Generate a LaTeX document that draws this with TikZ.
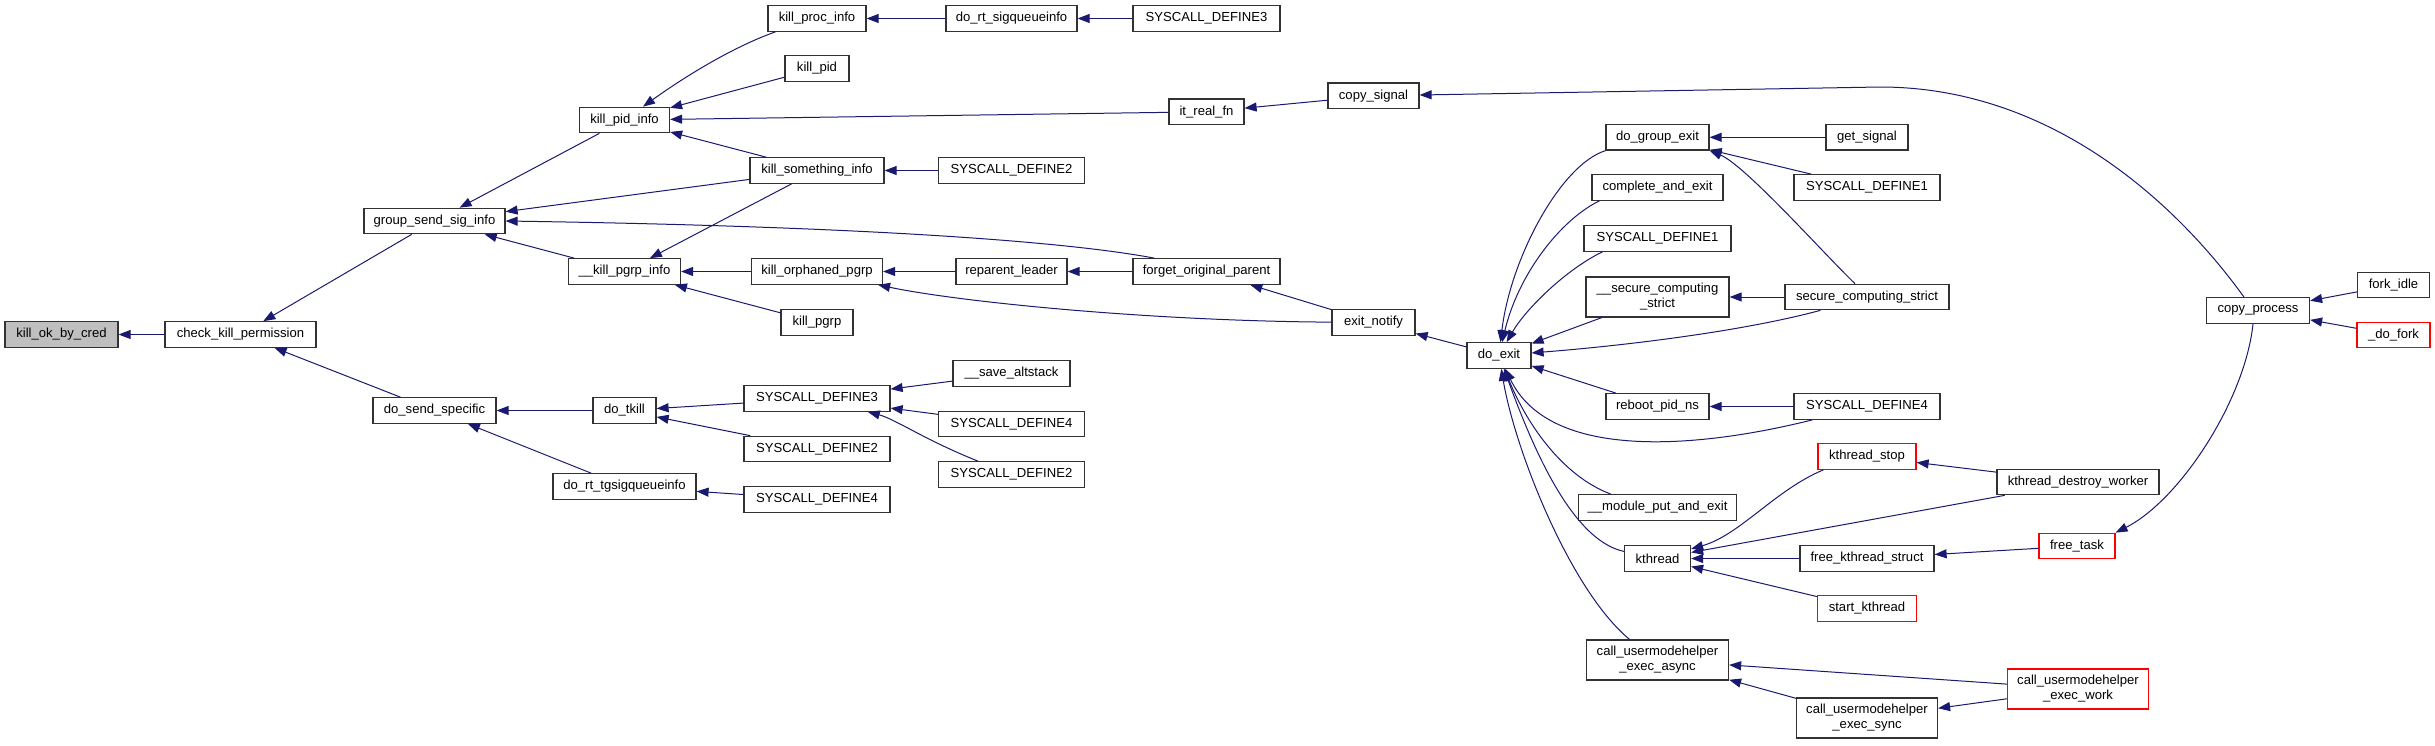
\documentclass[tikz,border=0pt]{standalone}
\usepackage{fontspec}
\setmainfont{Liberation Sans}
\usepackage{xcolor}
\definecolor{edgeblue}{RGB}{25,25,112}
\definecolor{boxgrey}{RGB}{191,191,191}
\definecolor{boxline}{RGB}{50,50,50}
\usetikzlibrary{arrows.meta}

\begin{document}
\begin{tikzpicture}[x=1pt,y=-1pt,
  fn/.style={draw=boxline,line width=1.2pt,rectangle,inner sep=0pt,minimum height=25.5pt,font=\fontsize{13.1}{15}\selectfont},
  fntwo/.style={fn,align=center,minimum height=40pt},
  hot/.style={draw=red},
  call/.style={draw=edgeblue,line width=1pt,-{Triangle[length=12pt,width=9pt]}}]
  \useasboundingbox (0,0) rectangle (2435,745);
  \node[fn,fill=boxgrey,minimum width=113pt] (koc) at (61.5,334.5) {kill\_ok\_by\_cred};
  \node[fn,minimum width=151pt] (ckp) at (240.5,334.5) {check\_kill\_permission};
  \node[fn,minimum width=141pt] (gssi) at (434.5,221) {group\_send\_sig\_info};
  \node[fn,minimum width=123pt] (dss) at (434.5,410.5) {do\_send\_specific};
  \node[fn,minimum width=90pt] (kpi) at (624.5,120) {kill\_pid\_info};
  \node[fn,minimum width=112pt] (kpgi) at (624.5,271.5) {\_\_kill\_pgrp\_info};
  \node[fn,minimum width=63pt] (dtk) at (624.5,410.5) {do\_tkill};
  \node[fn,minimum width=143pt] (drtg) at (624.5,486.5) {do\_rt\_tgsigqueueinfo};
  \node[fn,minimum width=98pt] (kproc) at (817,18.5) {kill\_proc\_info};
  \node[fn,minimum width=64pt] (kpid) at (817,68.5) {kill\_pid};
  \node[fn,minimum width=134pt] (ksi) at (817,170.5) {kill\_something\_info};
  \node[fn,minimum width=131pt] (kop) at (817,271.5) {kill\_orphaned\_pgrp};
  \node[fn,minimum width=72pt] (kpgrp) at (817,322.5) {kill\_pgrp};
  \node[fn,minimum width=146pt] (sdthree) at (817,398.5) {SYSCALL\_DEFINE3};
  \node[fn,minimum width=146pt] (sdtwo) at (817,449) {SYSCALL\_DEFINE2};
  \node[fn,minimum width=146pt] (sdfour) at (817,499.5) {SYSCALL\_DEFINE4};
  \node[fn,minimum width=131pt] (drsq) at (1011.5,18.5) {do\_rt\_sigqueueinfo};
  \node[fn,minimum width=146pt] (sdtwoks) at (1011.5,170.5) {SYSCALL\_DEFINE2};
  \node[fn,minimum width=111pt] (rpl) at (1011.5,271.5) {reparent\_leader};
  \node[fn,minimum width=117pt] (sva) at (1011.5,373.5) {\_\_save\_altstack};
  \node[fn,minimum width=146pt] (sdfourb) at (1011.5,424) {SYSCALL\_DEFINE4};
  \node[fn,minimum width=146pt] (sdtwob) at (1011.5,474.5) {SYSCALL\_DEFINE2};
  \node[fn,minimum width=147pt] (sdthreeq) at (1206.5,18.5) {SYSCALL\_DEFINE3};
  \node[fn,minimum width=75pt] (irf) at (1206.5,111.8) {it\_real\_fn};
  \node[fn,minimum width=147pt] (fop) at (1206.5,271.5) {forget\_original\_parent};
  \node[fn,minimum width=91pt] (csig) at (1373.5,95.8) {copy\_signal};
  \node[fn,minimum width=83pt] (exn) at (1373.5,322.4) {exit\_notify};
  \node[fn,minimum width=64pt] (dex) at (1499,355.5) {do\_exit};
  \node[fn,minimum width=103pt] (dge) at (1657.5,137.3) {do\_group\_exit};
  \node[fn,minimum width=131pt] (cae) at (1657.5,187.5) {complete\_and\_exit};
  \node[fn,minimum width=147pt] (sdone) at (1657.5,238.5) {SYSCALL\_DEFINE1};
  \node[fntwo,minimum width=143pt] (scsx) at (1657.5,297) {\_\_secure\_computing\\\_strict};
  \node[fn,minimum width=103pt] (rpn) at (1657.5,406.5) {reboot\_pid\_ns};
  \node[fn,minimum width=158pt] (mpe) at (1657.5,507.5) {\_\_module\_put\_and\_exit};
  \node[fn,minimum width=66pt] (kth) at (1657.5,558.5) {kthread};
  \node[fntwo,minimum width=142pt] (umha) at (1657.5,660) {call\_usermodehelper\\\_exec\_async};
  \node[fn,minimum width=82pt] (gsig) at (1867,137.3) {get\_signal};
  \node[fn,minimum width=146pt] (sdoneb) at (1867,187.5) {SYSCALL\_DEFINE1};
  \node[fn,minimum width=164pt] (scs) at (1867,297) {secure\_computing\_strict};
  \node[fn,minimum width=146pt] (sdfourr) at (1867,406.5) {SYSCALL\_DEFINE4};
  \node[fn,hot,minimum width=98pt] (kts) at (1867,456.5) {kthread\_stop};
  \node[fn,minimum width=134pt] (fks) at (1867,558.5) {free\_kthread\_struct};
  \node[fn,hot,minimum width=99pt] (stk) at (1867,608.5) {start\_kthread};
  \node[fntwo,minimum width=141pt] (umhs) at (1867,718) {call\_usermodehelper\\\_exec\_sync};
  \node[fn,minimum width=162pt] (kdw) at (2078,482) {kthread\_destroy\_worker};
  \node[fn,hot,minimum width=76pt] (ftk) at (2077,546) {free\_task};
  \node[fntwo,hot,minimum width=141pt] (umhw) at (2078,689) {call\_usermodehelper\\\_exec\_work};
  \node[fn,minimum width=103pt] (cpr) at (2258,310.5) {copy\_process};
  \node[fn,minimum width=72pt] (fid) at (2393.5,285) {fork\_idle};
  \node[fn,hot,minimum width=73pt] (dfk) at (2393.5,335) {\_do\_fork};
  \draw[call] (ckp) -- (koc);
  \draw[call] (gssi) -- (ckp);
  \draw[call] (dss) -- (ckp);
  \draw[call] (kpi) -- (gssi);
  \draw[call] (ksi) -- (gssi);
  \draw[call] ([xshift=22pt]fop.north west) .. controls (1080,244) and (900,227) .. (gssi.east);
  \draw[call] (kpgi) -- (gssi);
  \draw[call] ([xshift=8pt]kproc.south west) .. controls (730,48) and (680,80) .. (kpi);
  \draw[call] (kpid) -- (kpi);
  \draw[call] (irf) -- (kpi);
  \draw[call] (ksi) -- (kpi);
  \draw[call] (ksi) -- (kpgi);
  \draw[call] (kop) -- (kpgi);
  \draw[call] (kpgrp) -- (kpgi);
  \draw[call] (drsq) -- (kproc);
  \draw[call] (sdthreeq) -- (drsq);
  \draw[call] (sdtwoks) -- (ksi);
  \draw[call] (csig) -- (irf);
  \draw[call] ([xshift=-14pt]cpr.north) .. controls (2185,215) and (2060,87) .. (1880,87) -- (csig);
  \draw[call] (rpl) -- (kop);
  \draw[call] (exn) .. controls (1150,321) and (960,302) .. ([xshift=-5pt]kop.south east);
  \draw[call] (fop) -- (rpl);
  \draw[call] (exn) -- (fop);
  \draw[call] (dex) -- (exn);
  \draw[call] (dtk) -- (dss);
  \draw[call] (drtg) -- (dss);
  \draw[call] (sdthree) -- (dtk);
  \draw[call] (sdtwo) -- (dtk);
  \draw[call] (sdfour) -- (drtg);
  \draw[call] (sva) -- (sdthree);
  \draw[call] (sdfourb) -- (sdthree);
  \draw[call] (sdtwob) .. controls (925,440) and (895,419) .. (sdthree);
  \draw[call] (dge.south west) .. controls (1560,165) and (1510,260) .. (dex);
  \draw[call] ([xshift=8pt]cae.south west) .. controls (1560,220) and (1518,275) .. (dex);
  \draw[call] ([xshift=19pt]sdone.south west) .. controls (1565,270) and (1525,310) .. (dex);
  \draw[call] (scsx) -- (dex);
  \draw[call] ([xshift=36pt]scs.south west) .. controls (1740,332) and (1620,346) .. (dex);
  \draw[call] (rpn) -- (dex);
  \draw[call] ([xshift=19pt]sdfourr.south west) .. controls (1700,448) and (1550,462) .. (dex);
  \draw[call] ([xshift=33pt]mpe.north west) .. controls (1560,475) and (1525,420) .. (dex);
  \draw[call] (kth) .. controls (1570,540) and (1530,440) .. (dex);
  \draw[call] ([xshift=-28pt]umha.north) .. controls (1570,590) and (1515,450) .. (dex);
  \draw[call] (gsig) -- (dge);
  \draw[call] (sdoneb) -- (dge);
  \draw[call] ([xshift=-12pt]scs.north) .. controls (1825,255) and (1745,165) .. (dge.south east);
  \draw[call] (scs) -- (scsx);
  \draw[call] (sdfourr) -- (rpn);
  \draw[call] ([xshift=6pt]kts.south west) .. controls (1775,490) and (1740,535) .. (kth);
  \draw[call] (kdw) -- (kth);
  \draw[call] (fks) -- (kth);
  \draw[call] (stk) -- (kth);
  \draw[call] (kdw) -- (kts);
  \draw[call] (ftk) -- (fks);
  \draw[call] ([xshift=-5pt]cpr.south) .. controls (2245,400) and (2180,500) .. (ftk.north east);
  \draw[call] (fid) -- (cpr);
  \draw[call] (dfk) -- (cpr);
  \draw[call] (umhw) -- (umha);
  \draw[call] (umhs) -- (umha);
  \draw[call] (umhw) -- (umhs);
\end{tikzpicture}
\end{document}
